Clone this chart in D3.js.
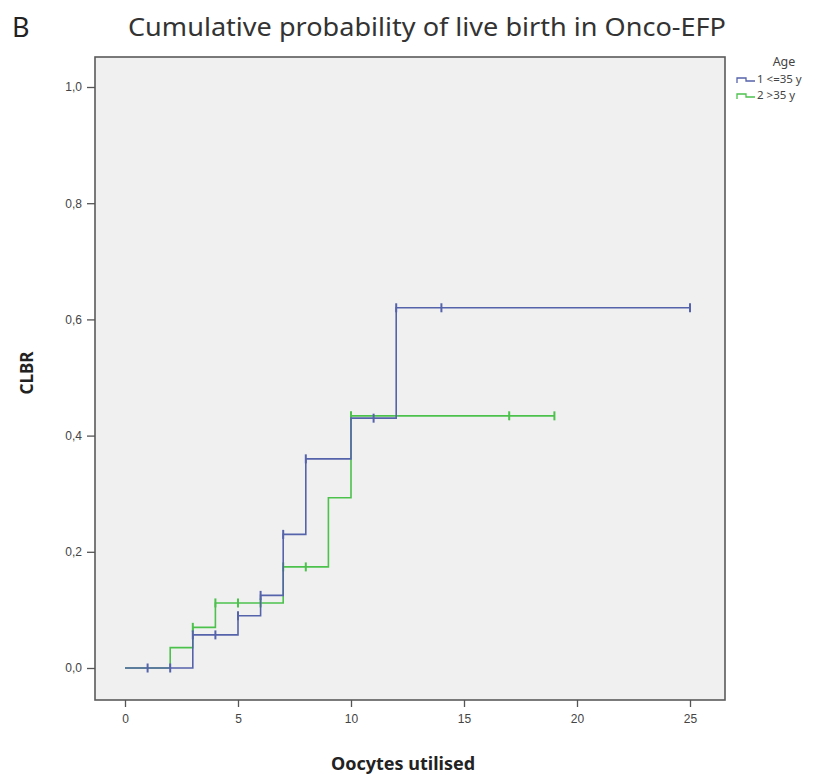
<!DOCTYPE html>
<html>
<head>
<meta charset="utf-8">
<script src="https://cdn.jsdelivr.net/npm/d3@7"></script>
<style>
  body { margin: 0; background: #fff; }
  svg { display: block; font-family: "Noto Sans", "Open Sans", sans-serif; }
</style>
</head>
<body>
<div id="chart"></div>
<script>
// step data
const youngTimes = [0, 3, 5, 6, 7, 8, 10, 12]
const youngProb  = [0, 0.057, 0.09, 0.125, 0.23, 0.36, 0.43, 0.62]
const youngEnd = 25
const youngCensor = [1, 2, 3, 4, 5, 6, 7, 8, 11, 12, 14, 25]

const oldTimes = [0, 2, 3, 4, 7, 9, 10]
const oldProb  = [0, 0.035, 0.07, 0.112, 0.174, 0.293, 0.434]
const oldEnd = 19
const oldCensor = [3, 4, 5, 6, 7, 8, 10, 17, 19]

const xTicks = [0, 5, 10, 15, 20, 25]
const yTicks = [0, 0.2, 0.4, 0.6, 0.8, 1.0]
const groupLabels = ["1 <=35 y", "2 >35 y"]
const groupColors = ["#5563ab", "#4cc14c"]

const W = 831, H = 775
const frame = {left: 95, right: 725, top: 57, bottom: 700}

const svg = d3.select("#chart").append("svg")
    .attr("width", W).attr("height", H)

const x = d3.scaleLinear().domain([0, 25]).range([125, 690])
const y = d3.scaleLinear().domain([0, 1]).range([668, 87])

// plot background + frame
svg.append("rect")
   .attr("x", frame.left).attr("y", frame.top)
   .attr("width", frame.right - frame.left)
   .attr("height", frame.bottom - frame.top)
   .attr("fill", "#f0f0f0")
   .attr("stroke", "#5a5a5a")
   .attr("stroke-width", 1.6)

// axes
const yAxis = d3.axisLeft(y).tickValues(yTicks).tickSize(8).tickPadding(5)
    .tickFormat(d => d3.format(".1f")(d).replace(".", ","))
const xAxis = d3.axisBottom(x).tickValues(xTicks).tickSize(7).tickPadding(7)

const gy = svg.append("g").attr("transform", `translate(${frame.left},0)`).call(yAxis)
const gx = svg.append("g").attr("transform", `translate(0,${frame.bottom})`).call(xAxis)
for (const g of [gx, gy]) {
    g.select(".domain").remove()
    g.selectAll(".tick line").attr("stroke", "#555").attr("stroke-width", 1.3)
    g.selectAll(".tick text").attr("fill", "#444").style("font-size", "12px")
}

function stepPath(times, probs, end){
    let pts = []
    for (let i = 0; i < times.length; i++) {
        if (i > 0) pts.push([times[i], probs[i-1]])
        pts.push([times[i], probs[i]])
    }
    pts.push([end, probs[probs.length - 1]])
    return d3.line().x(d => x(d[0])).y(d => y(d[1]))(pts)
}

function valueAt(times, probs, t){
    let v = probs[0]
    for (let i = 0; i < times.length; i++) if (times[i] <= t) v = probs[i]
    return v
}

const groups = [
    {times: youngTimes, probs: youngProb, end: youngEnd, censor: youngCensor},
    {times: oldTimes, probs: oldProb, end: oldEnd, censor: oldCensor}
]

// green drawn first so blue overlays where they share
;[1, 0].forEach(gi => {
    const g = groups[gi]
    svg.append("path")
       .attr("d", stepPath(g.times, g.probs, g.end))
       .attr("fill", "none")
       .attr("stroke", groupColors[gi])
       .attr("stroke-width", 1.6)
    svg.selectAll(null).data(g.censor).enter().append("line")
       .attr("x1", d => x(d)).attr("x2", d => x(d))
       .attr("y1", d => y(valueAt(g.times, g.probs, d)) - 4.5)
       .attr("y2", d => y(valueAt(g.times, g.probs, d)) + 4.5)
       .attr("stroke", groupColors[gi])
       .attr("stroke-width", 2)
})

// titles
svg.append("text").attr("x", 12).attr("y", 37)
   .style("font-size", "27px").attr("fill", "#222").text("B")
svg.append("text").attr("x", 427).attr("y", 36)
   .attr("text-anchor", "middle")
   .attr("textLength", 598).attr("lengthAdjust", "spacingAndGlyphs")
   .style("font-size", "26px").attr("fill", "#333")
   .text("Cumulative probability of live birth in Onco-EFP")

svg.append("text")
   .attr("transform", "translate(33,373) rotate(-90)")
   .attr("text-anchor", "middle")
   .style("font-size", "17px").style("font-weight", "bold").attr("fill", "#222")
   .text("CLBR")
svg.append("text").attr("x", 403).attr("y", 770)
   .attr("text-anchor", "middle")
   .style("font-size", "18px").style("font-weight", "bold").attr("fill", "#222")
   .text("Oocytes utilised")

// legend
const legend = svg.append("g").attr("transform", "translate(737,0)")
legend.append("text").attr("x", 47).attr("y", 66)
   .attr("text-anchor", "middle")
   .style("font-size", "12.5px").attr("fill", "#444").text("Age")
groupLabels.forEach((lab, i) => {
    const yy = 83 + i * 16
    legend.append("path")
       .attr("d", `M0,${yy} V${yy-5} H9 V${yy-2} H18`)
       .attr("fill", "none").attr("stroke", groupColors[i]).attr("stroke-width", 1.3)
    legend.append("text").attr("x", 20).attr("y", yy)
       .style("font-size", "11.5px").attr("fill", "#444").text(lab)
})
</script>
</body>
</html>
